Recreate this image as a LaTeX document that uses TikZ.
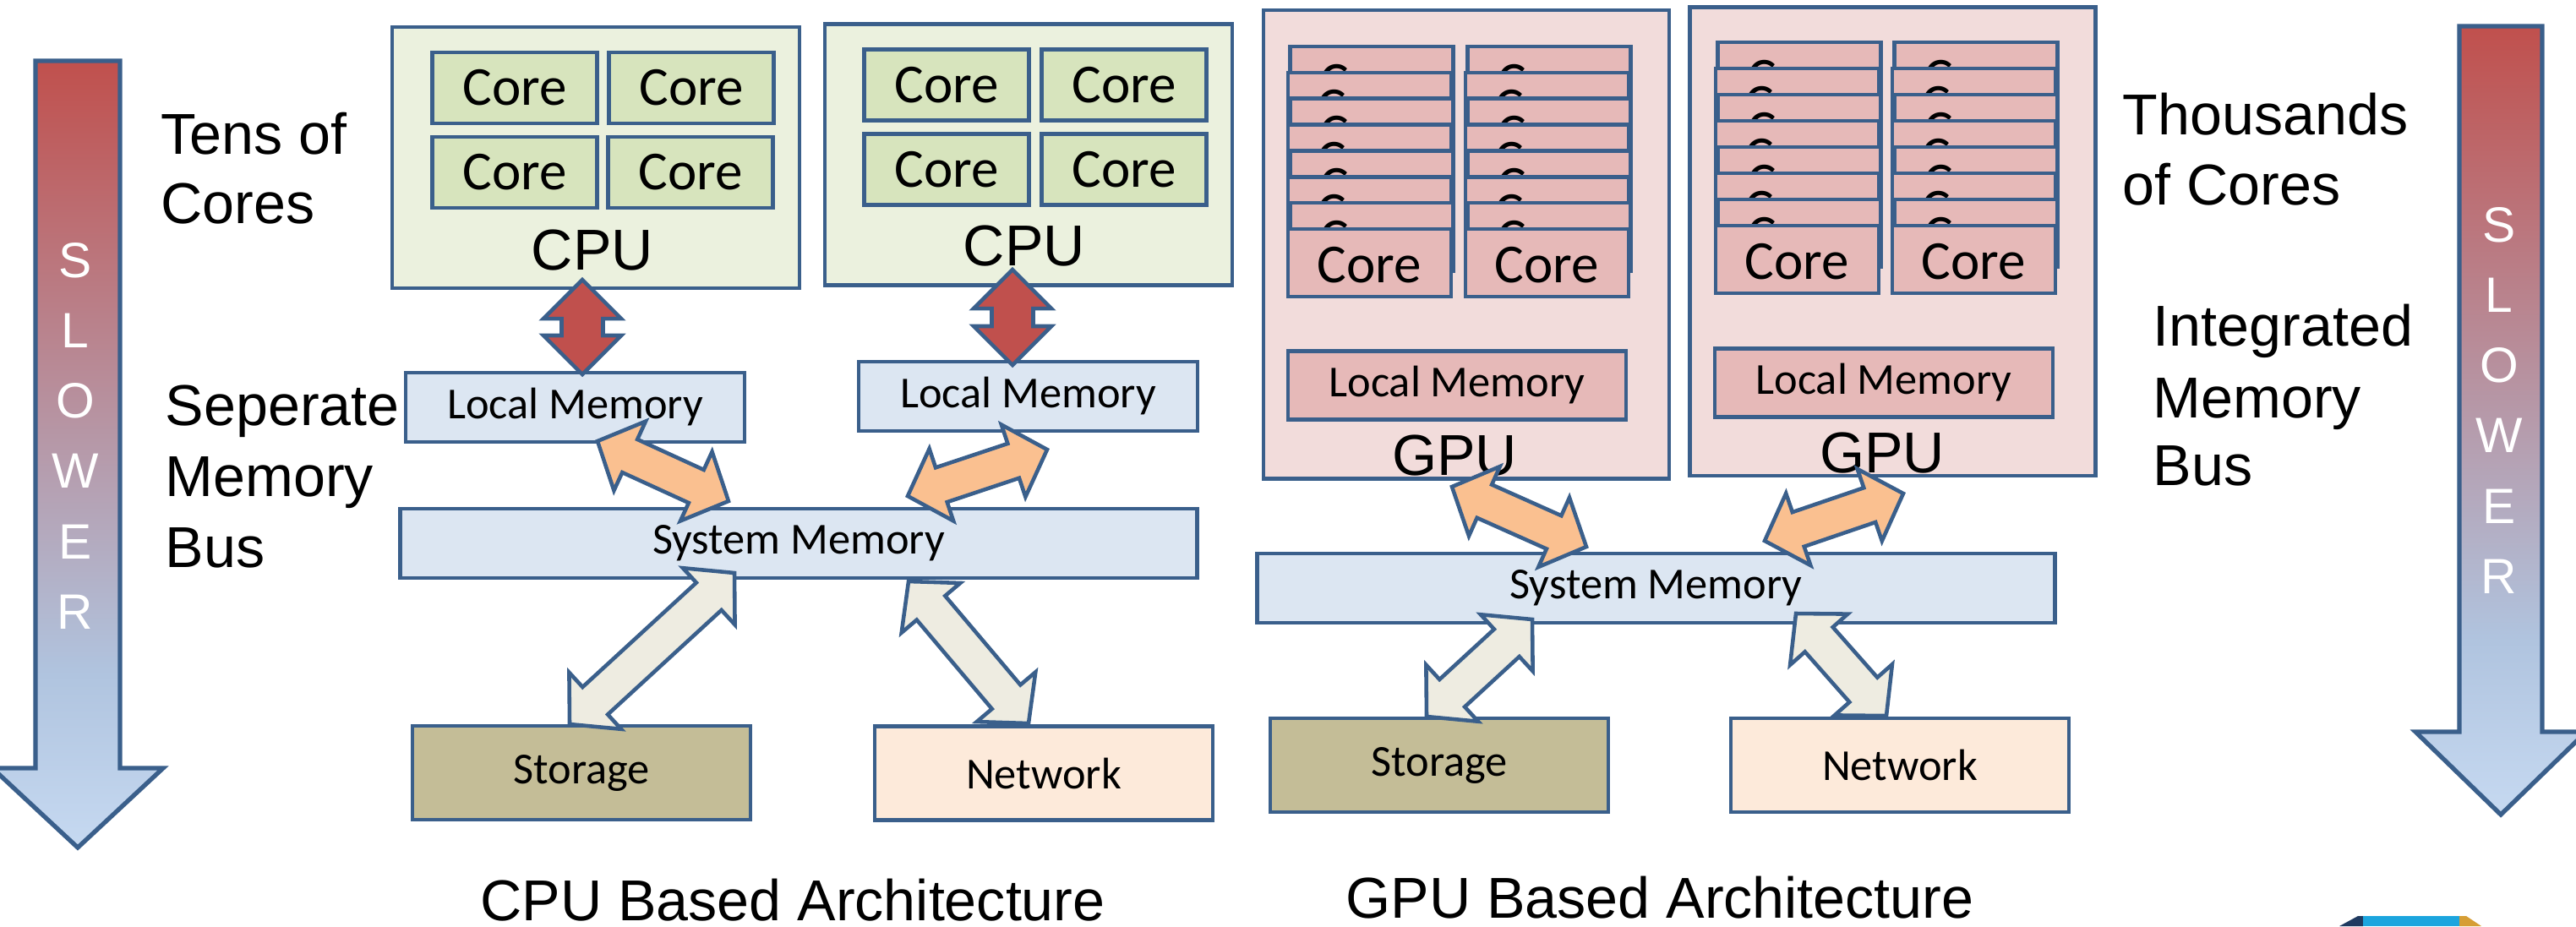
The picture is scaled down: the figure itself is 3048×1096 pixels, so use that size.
\documentclass[tikz,border=0pt]{standalone}
\usepackage{fontspec}
\setmainfont{Liberation Sans}
\newfontfamily\calib{Carlito}
\usetikzlibrary{calc}

\definecolor{edge}{HTML}{3A5F8B}
\definecolor{cpufill}{HTML}{EBF1DE}
\definecolor{cpucore}{HTML}{D7E4BD}
\definecolor{memfill}{HTML}{DCE6F2}
\definecolor{storfill}{HTML}{C4BD97}
\definecolor{netfill}{HTML}{FDEADA}
\definecolor{gpufill}{HTML}{F2DCDB}
\definecolor{gpucore}{HTML}{E6B9B8}
\definecolor{busred}{HTML}{C0504D}
\definecolor{busorange}{HTML}{FAC090}
\definecolor{busbeige}{HTML}{EEECE1}
\definecolor{slowred}{HTML}{C0504D}
\definecolor{slowmid}{HTML}{B0C4DF}
\definecolor{slowblue}{HTML}{C6D9F1}
\definecolor{logonavy}{HTML}{1F3A60}
\definecolor{logoblue}{HTML}{1CA5DE}
\definecolor{logogold}{HTML}{D69E35}

\pgfdeclareverticalshading{slowershade}{100bp}{color(0bp)=(slowblue); color(25bp)=(slowblue); color(36bp)=(slowmid); color(75bp)=(slowred); color(100bp)=(slowred)}

% double-headed block arrow between two named points
% #1 style, #2 first tip, #3 second tip, #4 head length, #5 head half width, #6 shaft half width
\newcommand\dblarrow[6]{%
  \draw[#1] (#2)
    -- ($(#2)!#4!(#3)!#5!90:(#3)$)
    -- ($(#2)!#4!(#3)!#6!90:(#3)$)
    -- ($(#3)!#4!(#2)!#6!-90:(#2)$)
    -- ($(#3)!#4!(#2)!#5!-90:(#2)$)
    -- (#3)
    -- ($(#3)!#4!(#2)!#5!90:(#2)$)
    -- ($(#3)!#4!(#2)!#6!90:(#2)$)
    -- ($(#2)!#4!(#3)!#6!-90:(#3)$)
    -- ($(#2)!#4!(#3)!#5!-90:(#3)$)
    -- cycle;}

\begin{document}
\begin{tikzpicture}[x=0.01cm, y=-0.01cm,
  box/.style={draw=edge, line width=1.3pt, inner sep=0pt, outer sep=0pt},
  cpubox/.style={box, fill=cpufill, minimum width=4.82cm, minimum height=3.09cm},
  ccore/.style={box, fill=cpucore, minimum width=1.95cm, minimum height=0.84cm,
    font=\calib\fontsize{18.5}{22}\selectfont},
  gpubox/.style={box, fill=gpufill, minimum width=4.8cm, minimum height=5.54cm},
  gcore/.style={box, fill=gpucore, minimum width=1.93cm, minimum height=0.8cm,
    anchor=north, text height=0.46cm, text depth=0pt,
    font=\calib\fontsize{18.5}{22}\selectfont},
  memtxt/.style={font=\calib\fontsize{14.9}{18}\selectfont},
  localmem/.style={box, memtxt, fill=memfill, minimum width=4.01cm, minimum height=0.82cm},
  glocalmem/.style={box, memtxt, fill=gpucore, minimum width=4.0cm, minimum height=0.81cm},
  sysmem/.style={box, memtxt, fill=memfill, minimum width=9.42cm, minimum height=0.82cm},
  storbox/.style={box, memtxt, fill=storfill, minimum width=4.0cm, minimum height=1.11cm},
  netbox/.style={box, memtxt, fill=netfill, minimum width=4.0cm, minimum height=1.11cm},
  lbl/.style={font=\fontsize{19.4}{23}\selectfont, inner sep=0pt},
  slowtxt/.style={font=\fontsize{16.7}{20}\selectfont, text=white, inner sep=0pt},
  slowarrow/.style={draw=edge, line width=1.5pt, shading=slowershade, line join=miter},
  blockarrow/.style={draw=edge, line width=1.3pt, line join=miter},
]
\useasboundingbox (0,0) rectangle (3048,1096);

% ---------- speed arrows ----------
\path[slowarrow] (42,72) -- (142,72) -- (142,909) -- (193,909) -- (92,1003)
  -- (-9,909) -- (42,909) -- cycle;
\path[slowarrow] (2910,31) -- (3008,31) -- (3008,866) -- (3060,866) -- (2959,964)
  -- (2858,866) -- (2910,866) -- cycle;
\foreach \ch [count=\k from 0] in {S,L,O,W,E,R} {
  \node[slowtxt] (slowL\k) at (89,308+\k*83.2) {\ch};
  \node[slowtxt] (slowR\k) at (2957,266+\k*83.2) {\ch};
}

% ---------- CPU side ----------
\node[cpubox] (cpu1) at (705,186.5) {};
\node[cpubox] (cpu2) at (1217,183) {};
\foreach \nm/\cx/\cy in {c1a/609/104, c1b/818/104, c1c/609/204, c1d/817/204,
                         c2a/1120/100.5, c2b/1330/100.5, c2c/1120/200.5, c2d/1330/200.5}
  {\node[ccore] (\nm) at (\cx,\cy) {Core};}
\node[lbl, anchor=base] (cpu1lbl) at (701,319) {CPU};
\node[lbl, anchor=base] (cpu2lbl) at (1212,314) {CPU};

\node[localmem] (lm1) at (680.5,482) {Local Memory};
\node[localmem] (lm2) at (1216.5,469) {Local Memory};
\node[sysmem] (sm1) at (945,643) {System Memory};
\node[storbox] (st1) at (688,914.5) {Storage};
\node[netbox] (nw1) at (1235,915) {Network};

% ---------- GPU side ----------
\node[gpubox] (gpu1) at (1735,289.3) {};
\node[gpubox] (gpu2) at (2239.5,285.7) {};
\foreach \i [evaluate=\i as \dx using {mod(\i,2)*(-2.5)}] in {0,...,7} {
  \node[gcore] (gA\i) at (1623+\dx,55+\i*30.86) {Core};
  \node[gcore] (gB\i) at (1833+\dx,55+\i*30.86) {Core};
  \node[gcore] (gC\i) at (2129+\dx,50+\i*31) {Core};
  \node[gcore] (gD\i) at (2338+\dx,50+\i*31) {Core};
}
\node[glocalmem] (lm3) at (1724,456) {Local Memory};
\node[glocalmem] (lm4) at (2229,453) {Local Memory};
\node[lbl, anchor=base] (gpu1lbl) at (1721,562.6) {GPU};
\node[lbl, anchor=base] (gpu2lbl) at (2227,559) {GPU};

\node[sysmem, minimum width=9.43cm] (sm2) at (1959.5,696) {System Memory};
\node[storbox] (st2) at (1703,905.5) {Storage};
\node[netbox] (nw2) at (2248,905.5) {Network};

% ---------- side labels ----------
\node[lbl, anchor=base west] (tens1) at (190,182) {Tens of};
\node[lbl, anchor=base west] (tens2) at (190,264) {Cores};
\node[lbl, anchor=base west] (sep1) at (195,503) {Seperate};
\node[lbl, anchor=base west] (sep2) at (195,587) {Memory};
\node[lbl, anchor=base west] (sep3) at (195,671) {Bus};
\node[lbl, anchor=base west] (thou1) at (2511,159) {Thousands};
\node[lbl, anchor=base west] (thou2) at (2511,242) {of Cores};
\node[lbl, anchor=base west] (int1) at (2547,409) {Integrated};
\node[lbl, anchor=base west] (int2) at (2547,494) {Memory};
\node[lbl, anchor=base west] (int3) at (2547,574) {Bus};
\node[lbl, anchor=base] (cpucap) at (938,1089) {CPU Based Architecture};
\node[lbl, anchor=base] (gpucap) at (1964,1086) {GPU Based Architecture};

% ---------- bus arrows ----------
\coordinate (r1a) at (689,331);   \coordinate (r1b) at (689,443);
\coordinate (r2a) at (1198,319);  \coordinate (r2b) at (1198,432);
\coordinate (o1a) at (707,522);   \coordinate (o1b) at (862,593);
\coordinate (o2a) at (1074,587);  \coordinate (o2b) at (1239,532);
\coordinate (o3a) at (1718,576);  \coordinate (o3b) at (1877,647);
\coordinate (o4a) at (2088,640);  \coordinate (o4b) at (2252,584);
\coordinate (b1a) at (674,857);   \coordinate (b1b) at (869,678);
\coordinate (b2a) at (1217,856);  \coordinate (b2b) at (1075,688);
\coordinate (b3a) at (1688,848);  \coordinate (b3b) at (1813,733);
\coordinate (b4a) at (2232,847);  \coordinate (b4b) at (2125,726);

\dblarrow{blockarrow, fill=busred}{r1a}{r1b}{0.46cm}{0.46cm}{0.245cm}
\dblarrow{blockarrow, fill=busred}{r2a}{r2b}{0.46cm}{0.46cm}{0.245cm}
\foreach \a in {o1,o2,o3,o4}
  {\dblarrow{blockarrow, fill=busorange}{\a a}{\a b}{0.42cm}{0.45cm}{0.215cm}}
\foreach \a in {b1,b2,b3,b4}
  {\dblarrow{blockarrow, fill=busbeige}{\a a}{\a b}{0.41cm}{0.455cm}{0.22cm}}

% ---------- corner mark ----------
\fill[logonavy] (2768,1096) -- (2790,1084) -- (2796,1084) -- (2796,1096) -- cycle;
\fill[logoblue] (2796,1084) rectangle (2910,1096);
\fill[logogold] (2910,1084) -- (2918,1084) -- (2936,1096) -- (2910,1096) -- cycle;
\end{tikzpicture}
\end{document}
